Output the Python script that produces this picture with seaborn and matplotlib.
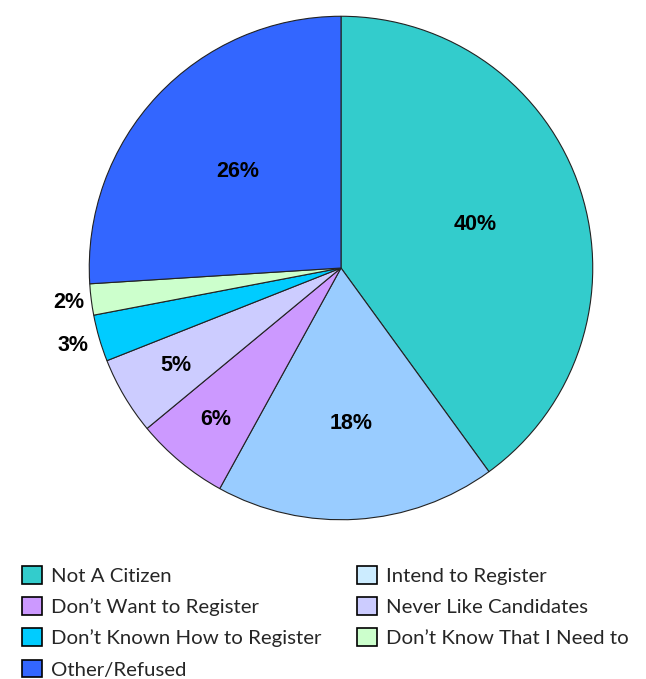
import numpy as np
import matplotlib
matplotlib.use("Agg")
import matplotlib.pyplot as plt
from matplotlib.patches import Patch
import seaborn as sns

# data, clockwise from 12 o'clock
categories = ["Not A Citizen", "Intend to Register", "Don’t Want to Register",
              "Never Like Candidates", "Don’t Known How to Register",
              "Don’t Know That I Need to", "Other/Refused"]
shares = [40, 18, 6, 5, 3, 2, 26]
pie_colors = ["#33CCCC", "#99CCFF", "#CC99FF", "#CCCCFF", "#00CCFF", "#CCFFCC", "#3366FF"]
legend_colors = ["#33CCCC", "#CCECFF", "#CC99FF", "#CCCCFF", "#00CCFF", "#CCFFCC", "#3366FF"]

# where each percent label sits (fraction of radius)
label_r = [0.56, 0.62, 0.78, 0.76, 1.11, 1.09, 0.56]

sns.set_theme(style="white")
plt.rcParams['font.family'] = ['Liberation Sans', 'DejaVu Sans']

W, H = 646, 679
fig = plt.figure(figsize=(W / 100, H / 100), dpi=100)
cx, cy, r = 341, 268, 253
ax = fig.add_axes([(cx - r) / W, 1 - (cy + r) / H, 2 * r / W, 2 * r / H])

wedges, _ = ax.pie(shares, colors=pie_colors, startangle=90, counterclock=False,
                   radius=1, wedgeprops=dict(edgecolor="#222222", linewidth=0.8))
ax.set_xlim(-1.005, 1.005)
ax.set_ylim(-1.005, 1.005)
ax.set_aspect("equal")
ax.axis("off")

for w, val, lr in zip(wedges, shares, label_r):
    mid = np.deg2rad((w.theta1 + w.theta2) / 2)
    ax.text(lr * np.cos(mid), lr * np.sin(mid), f"{val}%", ha="center", va="center",
            fontsize=15.5, fontweight="bold", color="black")

# legend fills column-major, so reorder to get row-major look
order = [0, 2, 4, 6, 1, 3, 5]
handles = [Patch(facecolor=legend_colors[i], edgecolor="black", linewidth=1.2) for i in order]
labels = [categories[i] for i in order]
fig.legend(handles, labels, loc="upper left", bbox_to_anchor=(22 / W, 1 - 566 / H),
           ncol=2, frameon=False, prop={"family": "Lato", "size": 14.7},
           handlelength=0.97, handleheight=0.97, handletextpad=0.45,
           labelspacing=0.6, columnspacing=1.75, borderaxespad=0, borderpad=0)

fig.savefig("out.png", dpi=100)
